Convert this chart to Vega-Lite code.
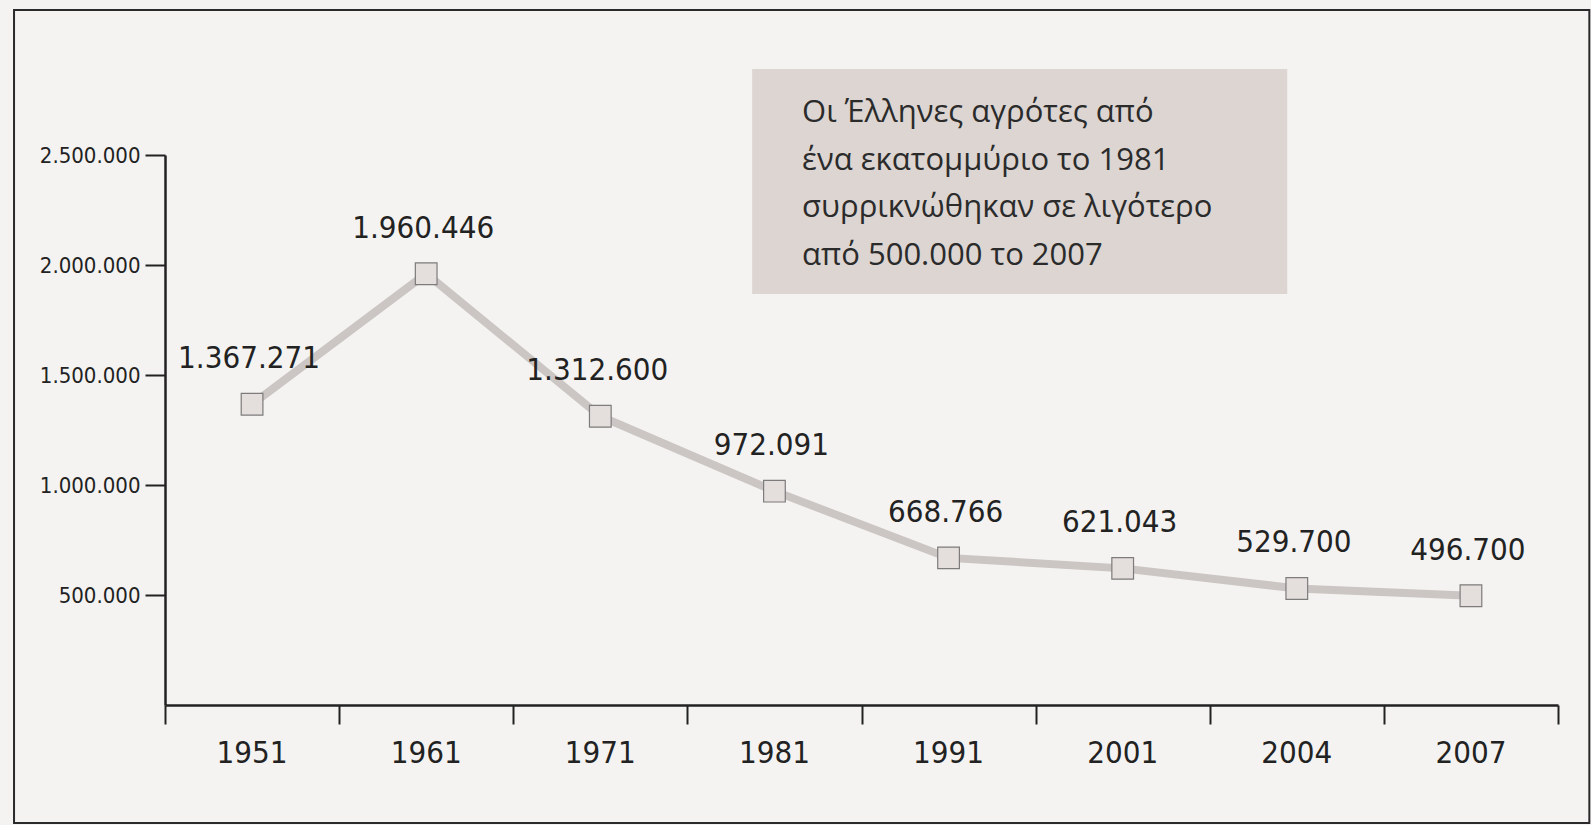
{
  "$schema": "https://vega.github.io/schema/vega-lite/v6.json",
  "width": 1393,
  "height": 550,
  "autosize": {"type": "none"},
  "padding": {"left": 165, "top": 155, "right": 33, "bottom": 120},
  "background": "#f4f3f1",
  "config": {
    "locale": {"number": {"decimal": ",", "thousands": ".", "grouping": [3], "currency": ["", " €"]}},
    "view": {"stroke": null},
    "font": "Open Sans"
  },
  "datasets": {
    "farmers": [
      {"year": "1951", "farmers": 1367271},
      {"year": "1961", "farmers": 1960446},
      {"year": "1971", "farmers": 1312600},
      {"year": "1981", "farmers": 972091},
      {"year": "1991", "farmers": 668766},
      {"year": "2001", "farmers": 621043},
      {"year": "2004", "farmers": 529700},
      {"year": "2007", "farmers": 496700}
    ],
    "note": [
      {"text": ["Οι Έλληνες αγρότες από", "ένα εκατομμύριο το 1981", "συρρικνώθηκαν σε λιγότερο", "από 500.000 το 2007"]}
    ]
  },
  "layer": [
    {
      "data": {"name": "note"},
      "layer": [
        {
          "mark": {"type": "rect", "fillOpacity": 0, "stroke": "#2a2a2a", "strokeWidth": 2},
          "encoding": {
            "x": {"datum": -0.867, "type": "quantitative", "scale": {"domain": [0, 8]},
              "axis": {"orient": "bottom", "values": [0, 1, 2, 3, 4, 5, 6, 7, 8], "labels": false, "ticks": true, "tickSize": 19, "tickWidth": 2, "tickColor": "#222", "domain": true, "domainColor": "#222", "domainWidth": 2.5, "grid": false, "title": null}},
            "x2": {"datum": 8.18},
            "y": {"datum": 3159000, "type": "quantitative", "scale": {"domain": [0, 2500000]}},
            "y2": {"datum": -536000}
          }
        },
        {
          "mark": {"type": "rect", "fill": "#dcd5d2"},
          "encoding": {
            "x": {"datum": 3.372, "type": "quantitative", "scale": {"domain": [0, 8]}},
            "x2": {"datum": 6.445},
            "y": {"datum": 2891000, "type": "quantitative", "scale": {"domain": [0, 2500000]}},
            "y2": {"datum": 1868000}
          }
        },
        {
          "mark": {"type": "text", "align": "left", "baseline": "middle", "fontSize": 31, "lineHeight": 47.5, "color": "#2b2b2b", "font": "Open Sans"},
          "encoding": {
            "x": {"datum": 3.659, "type": "quantitative", "scale": {"domain": [0, 8]}},
            "y": {"datum": 2690000, "type": "quantitative", "scale": {"domain": [0, 2500000]}},
            "text": {"field": "text"}
          }
        }
      ]
    },
    {
      "data": {"name": "farmers"},
      "encoding": {
        "x": {"field": "year", "type": "ordinal", "bandPosition": 0.5,
          "scale": {"type": "band", "paddingInner": 0, "paddingOuter": 0},
          "axis": {"orient": "bottom", "ticks": false, "domain": false, "labelFontSize": 31, "labelFont": "DejaVu Sans Condensed", "labelColor": "#222", "labelPadding": 48, "labelBaseline": "middle", "labelAngle": 0, "title": null, "grid": false}},
        "y": {"field": "farmers", "type": "quantitative", "scale": {"domain": [0, 2500000]},
          "axis": {"values": [500000, 1000000, 1500000, 2000000, 2500000], "format": ",d", "grid": false, "tickSize": 20, "tickWidth": 2, "tickColor": "#222", "domainColor": "#222", "domainWidth": 2.5, "labelFontSize": 22, "labelFont": "DejaVu Sans Condensed", "labelColor": "#222", "labelPadding": 5, "title": null}}
      },
      "layer": [
        {"mark": {"type": "line", "stroke": "#cbc6c4", "strokeWidth": 8}},
        {"mark": {"type": "point", "shape": "square", "size": 470, "filled": true, "fill": "#e4dfdd", "stroke": "#7d7b7b", "strokeWidth": 1.2, "opacity": 1}},
        {"mark": {"type": "text", "dy": -45, "dx": -3, "fontSize": 31, "font": "DejaVu Sans Condensed", "color": "#222"},
          "encoding": {"text": {"field": "farmers", "type": "quantitative", "format": ",d"}}}
      ]
    }
  ],
  "resolve": {"scale": {"x": "independent"}, "axis": {"x": "independent"}}
}
